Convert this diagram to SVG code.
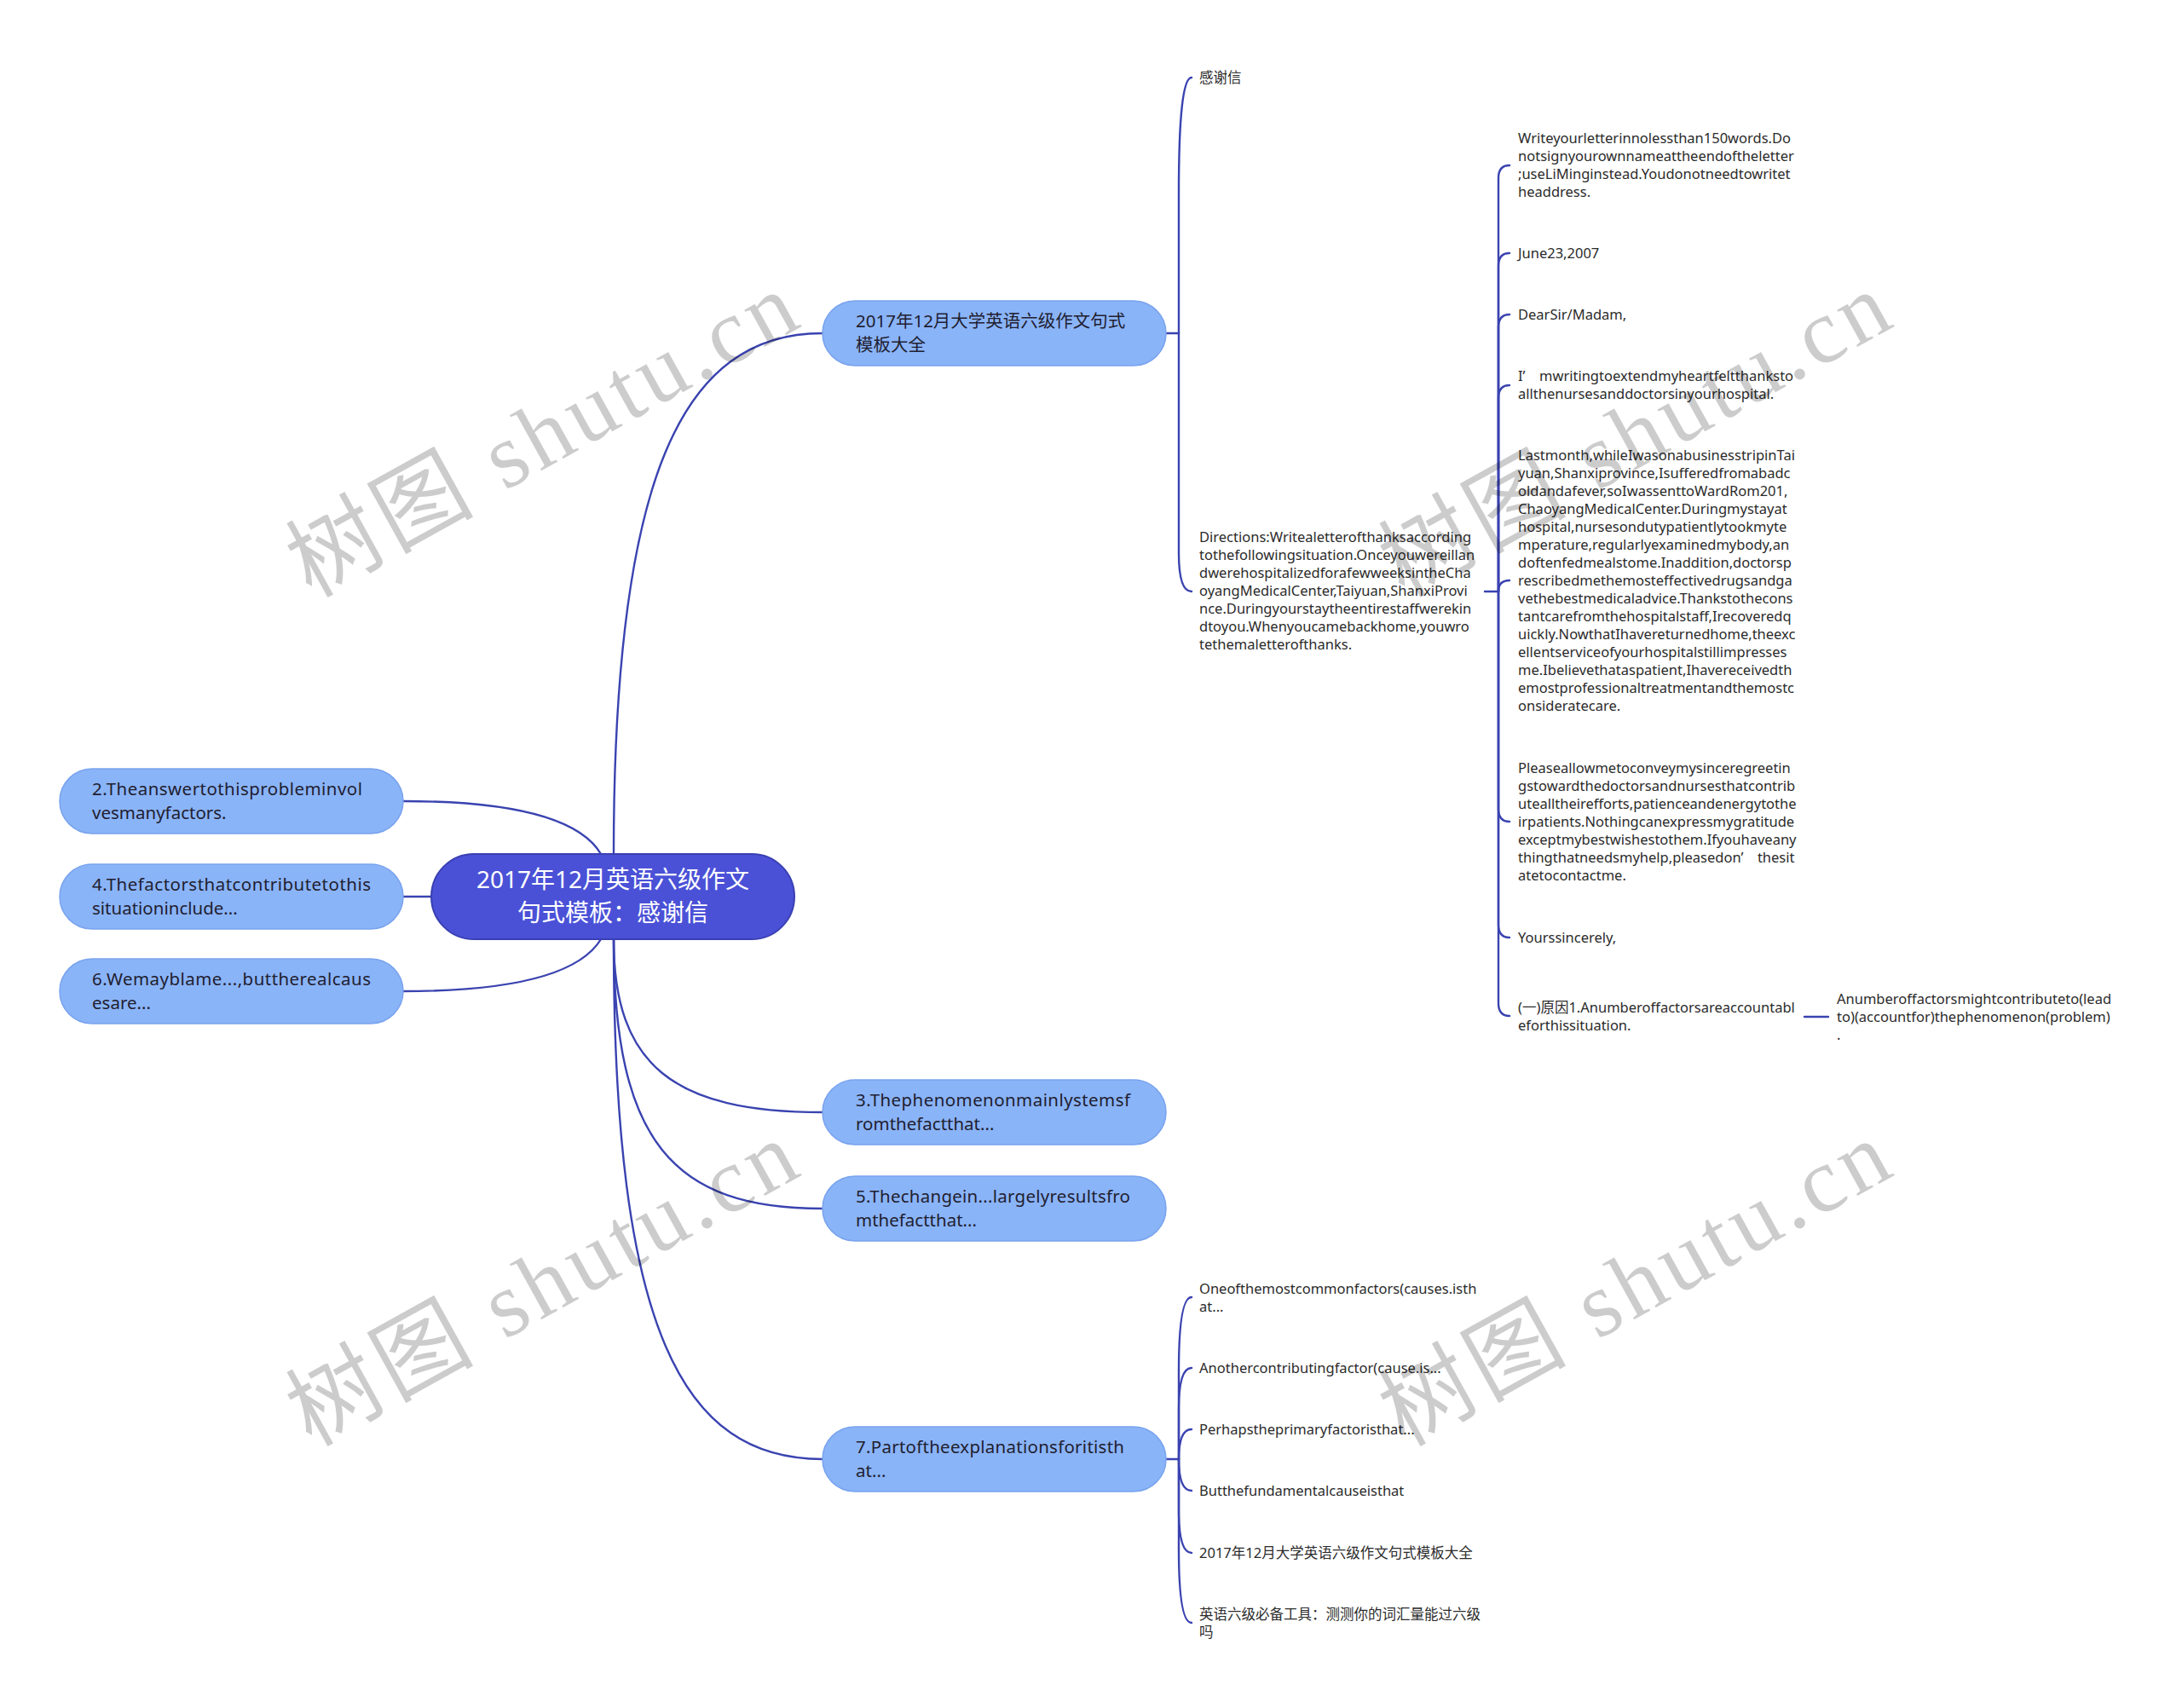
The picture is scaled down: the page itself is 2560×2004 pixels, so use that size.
<svg xmlns="http://www.w3.org/2000/svg" width="2560" height="2004" viewBox="0 0 2560 2004">
<style>
.root rect{fill:#4a51d7;stroke:#3a40b2;stroke-width:2}
.root text{fill:#ffffff;font-family:"Noto Sans","Noto Sans CJK SC",sans-serif;font-size:28px;text-anchor:middle}
.main rect{fill:#8ab4f8;stroke:#79a3ee;stroke-width:1.5}
.main text{fill:#1f2030;font-family:"Noto Sans","Noto Sans CJK SC",sans-serif;font-size:20.5px}
.leaf text{fill:#2b2b2b;font-family:"Noto Sans","Noto Sans CJK SC",sans-serif;font-size:16.5px}
.conn path{fill:none;stroke:#3a43b0;stroke-width:2.4;stroke-linecap:round}
.wm text{font-family:"Liberation Serif","Noto Sans CJK SC",serif;font-size:108px;fill:#000000;fill-opacity:0.2}
</style>
<rect x="0" y="0" width="2560" height="2004" fill="#ffffff"/>

<g id="connectors" class="conn">
  <path d="M720,1002 C720,560 800,391 965,391"/>
  <path d="M705,1002 C680,960 600,940 473,940"/>
  <path d="M506,1052 H473"/>
  <path d="M705,1102 C680,1143 600,1163 473,1163"/>
  <path d="M720,1102 C720,1250 790,1305 965,1305"/>
  <path d="M720,1102 C720,1340 790,1418 965,1418"/>
  <path d="M720,1102 C720,1560 800,1712 965,1712"/>
  <path d="M1368,391 H1383"/>
  <path d="M1383,391 V226 Q1383,91 1398,91"/>
  <path d="M1383,391 V649 Q1383,694 1398,694"/>
  <path d="M1742,694 H1758"/>
  <path d="M1758,694 V209 Q1758,194 1771,194"/>
  <path d="M1758,694 V312 Q1758,297 1771,297"/>
  <path d="M1758,694 V384 Q1758,369 1771,369"/>
  <path d="M1758,694 V467 Q1758,452 1771,452"/>
  <path d="M1758,694 Q1758,681 1771,681"/>
  <path d="M1758,694 V949 Q1758,964 1771,964"/>
  <path d="M1758,694 V1085 Q1758,1100 1771,1100"/>
  <path d="M1758,694 V1177 Q1758,1192 1771,1192"/>
  <path d="M2117,1193 H2145"/>
  <path d="M1368,1712 H1383"/>
  <path d="M1383,1712 V1608 Q1383,1522 1398,1522"/>
  <path d="M1383,1712 V1653 Q1383,1605 1398,1605"/>
  <path d="M1383,1712 Q1383,1677 1398,1677"/>
  <path d="M1383,1712 Q1383,1749 1398,1749"/>
  <path d="M1383,1712 V1772 Q1383,1822 1398,1822"/>
  <path d="M1383,1712 V1818 Q1383,1904 1398,1904"/>
</g>

<g id="root" class="root">
  <rect x="506" y="1002" width="426" height="100" rx="50"/>
  <text x="719" y="1042">2017年12月英语六级作文</text>
  <text x="719" y="1081">句式模板：感谢信</text>
</g>

<g id="n1" class="main">
  <rect x="965" y="353" width="403" height="76" rx="38"/>
  <text x="1004" y="384">2017年12月大学英语六级作文句式</text>
  <text x="1004" y="412">模板大全</text>
</g>
<g id="n2" class="main">
  <rect x="70" y="902" width="403" height="76" rx="38"/>
  <text x="108" y="933" textLength="317">2.Theanswertothisprobleminvol</text>
  <text x="108" y="961">vesmanyfactors.</text>
</g>
<g id="n4" class="main">
  <rect x="70" y="1014" width="403" height="76" rx="38"/>
  <text x="108" y="1045" textLength="327">4.Thefactorsthatcontributetothis</text>
  <text x="108" y="1073">situationinclude...</text>
</g>
<g id="n6" class="main">
  <rect x="70" y="1125" width="403" height="76" rx="38"/>
  <text x="108" y="1156" textLength="327">6.Wemayblame...,buttherealcaus</text>
  <text x="108" y="1184">esare...</text>
</g>
<g id="n3" class="main">
  <rect x="965" y="1267" width="403" height="76" rx="38"/>
  <text x="1004" y="1298" textLength="322">3.Thephenomenonmainlystemsf</text>
  <text x="1004" y="1326">romthefactthat...</text>
</g>
<g id="n5" class="main">
  <rect x="965" y="1380" width="403" height="76" rx="38"/>
  <text x="1004" y="1411" textLength="322">5.Thechangein...largelyresultsfro</text>
  <text x="1004" y="1439">mthefactthat...</text>
</g>
<g id="n7" class="main">
  <rect x="965" y="1674" width="403" height="76" rx="38"/>
  <text x="1004" y="1705" textLength="315">7.Partoftheexplanationsforitisth</text>
  <text x="1004" y="1733">at...</text>
</g>

<g id="t-ganxiexin" class="leaf"><text x="1407" y="97">感谢信</text></g>
<g id="t-directions" class="leaf">
  <text x="1407" y="636">Directions:Writealetterofthanksaccording</text>
  <text x="1407" y="657">tothefollowingsituation.Onceyouwereillan</text>
  <text x="1407" y="678">dwerehospitalizedforafewweeksintheCha</text>
  <text x="1407" y="699">oyangMedicalCenter,Taiyuan,ShanxiProvi</text>
  <text x="1407" y="720">nce.Duringyourstaytheentirestaffwerekin</text>
  <text x="1407" y="741">dtoyou.Whenyoucamebackhome,youwro</text>
  <text x="1407" y="762">tethemaletterofthanks.</text>
</g>
<g id="t-write" class="leaf">
  <text x="1781" y="168">Writeyourletterinnolessthan150words.Do</text>
  <text x="1781" y="189">notsignyourownnameattheendoftheletter</text>
  <text x="1781" y="210">;useLiMinginstead.Youdonotneedtowritet</text>
  <text x="1781" y="231">headdress.</text>
</g>
<g id="t-june" class="leaf"><text x="1781" y="303">June23,2007</text></g>
<g id="t-dear" class="leaf"><text x="1781" y="375">DearSir/Madam,</text></g>
<g id="t-im" class="leaf">
  <text x="1781" y="447">I’　mwritingtoextendmyheartfeltthanksto</text>
  <text x="1781" y="468">allthenursesanddoctorsinyourhospital.</text>
</g>
<g id="t-lastmonth" class="leaf">
  <text x="1781" y="540">Lastmonth,whileIwasonabusinesstripinTai</text>
  <text x="1781" y="561">yuan,Shanxiprovince,Isufferedfromabadc</text>
  <text x="1781" y="582">oldandafever,soIwassenttoWardRom201,</text>
  <text x="1781" y="603">ChaoyangMedicalCenter.Duringmystayat</text>
  <text x="1781" y="624">hospital,nursesondutypatientlytookmyte</text>
  <text x="1781" y="645">mperature,regularlyexaminedmybody,an</text>
  <text x="1781" y="666">doftenfedmealstome.Inaddition,doctorsp</text>
  <text x="1781" y="687">rescribedmethemosteffectivedrugsandga</text>
  <text x="1781" y="708">vethebestmedicaladvice.Thankstothecons</text>
  <text x="1781" y="729">tantcarefromthehospitalstaff,Irecoveredq</text>
  <text x="1781" y="750">uickly.NowthatIhavereturnedhome,theexc</text>
  <text x="1781" y="771">ellentserviceofyourhospitalstillimpresses</text>
  <text x="1781" y="792">me.Ibelievethataspatient,Ihavereceivedth</text>
  <text x="1781" y="813">emostprofessionaltreatmentandthemostc</text>
  <text x="1781" y="834">onsideratecare.</text>
</g>
<g id="t-please" class="leaf">
  <text x="1781" y="907">Pleaseallowmetoconveymysinceregreetin</text>
  <text x="1781" y="928">gstowardthedoctorsandnursesthatcontrib</text>
  <text x="1781" y="949">utealltheirefforts,patienceandenergytothe</text>
  <text x="1781" y="970">irpatients.Nothingcanexpressmygratitude</text>
  <text x="1781" y="991">exceptmybestwishestothem.Ifyouhaveany</text>
  <text x="1781" y="1012">thingthatneedsmyhelp,pleasedon’　thesit</text>
  <text x="1781" y="1033">atetocontactme.</text>
</g>
<g id="t-yours" class="leaf"><text x="1781" y="1106">Yourssincerely,</text></g>
<g id="t-yuanyin" class="leaf">
  <text x="1781" y="1188">(一)原因1.Anumberoffactorsareaccountabl</text>
  <text x="1781" y="1209">eforthissituation.</text>
</g>
<g id="t-anumber" class="leaf">
  <text x="2155" y="1178">Anumberoffactorsmightcontributeto(lead</text>
  <text x="2155" y="1199">to)(accountfor)thephenomenon(problem)</text>
  <text x="2155" y="1220">.</text>
</g>
<g id="t-oneof" class="leaf">
  <text x="1407" y="1518">Oneofthemostcommonfactors(causes.isth</text>
  <text x="1407" y="1539">at...</text>
</g>
<g id="t-another" class="leaf"><text x="1407" y="1611">Anothercontributingfactor(cause.is...</text></g>
<g id="t-perhaps" class="leaf"><text x="1407" y="1683">Perhapstheprimaryfactoristhat...</text></g>
<g id="t-but" class="leaf"><text x="1407" y="1755">Butthefundamentalcauseisthat</text></g>
<g id="t-daquan" class="leaf"><text x="1407" y="1828">2017年12月大学英语六级作文句式模板大全</text></g>
<g id="t-gongju" class="leaf">
  <text x="1407" y="1900">英语六级必备工具：测测你的词汇量能过六级</text>
  <text x="1407" y="1921">吗</text>
</g>

<g id="watermarks" class="wm">
  <text x="365" y="702" textLength="660" transform="rotate(-29 365 702)">树图 shutu.cn</text>
  <text x="1647" y="702" textLength="660" transform="rotate(-29 1647 702)">树图 shutu.cn</text>
  <text x="365" y="1698" textLength="660" transform="rotate(-29 365 1698)">树图 shutu.cn</text>
  <text x="1647" y="1698" textLength="660" transform="rotate(-29 1647 1698)">树图 shutu.cn</text>
</g>
</svg>
